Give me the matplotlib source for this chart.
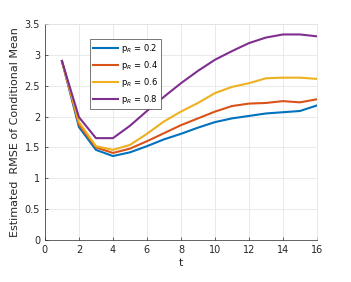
import numpy as np
import matplotlib
matplotlib.use('Agg')
import matplotlib.pyplot as plt

t = np.arange(1, 17)
rmse_02 = [2.9, 1.83, 1.46, 1.36, 1.42, 1.52, 1.63, 1.72, 1.82, 1.91, 1.97, 2.01, 2.05, 2.07, 2.09, 2.18]
rmse_04 = [2.9, 1.87, 1.50, 1.41, 1.48, 1.60, 1.73, 1.86, 1.97, 2.08, 2.17, 2.21, 2.22, 2.25, 2.23, 2.28]
rmse_06 = [2.9, 1.91, 1.52, 1.46, 1.54, 1.72, 1.92, 2.08, 2.22, 2.38, 2.48, 2.54, 2.62, 2.63, 2.63, 2.61]
rmse_08 = [2.9, 1.99, 1.65, 1.65, 1.85, 2.09, 2.32, 2.54, 2.74, 2.92, 3.06, 3.19, 3.28, 3.33, 3.33, 3.30]
labels = ['p$_R$ = 0.2', 'p$_R$ = 0.4', 'p$_R$ = 0.6', 'p$_R$ = 0.8']
colors = ['#0072BD', '#D95319', '#EDB120', '#7E2F8E']

fig = plt.figure(figsize=(3.51, 2.82), dpi=100)
ax = fig.add_axes([0.128, 0.149, 0.775, 0.766])

for y, lab, c in zip([rmse_02, rmse_04, rmse_06, rmse_08], labels, colors):
    ax.plot(t, y, color=c, lw=1.5, label=lab)

ax.set_xlim(0, 16)
ax.set_ylim(0, 3.5)
ax.set_xticks(np.arange(0, 17, 2))
yt = np.arange(0, 3.51, 0.5)
ax.set_yticks(yt)
ax.set_yticklabels(['0', '0.5', '1', '1.5', '2', '2.5', '3', '3.5'])
ax.grid(True, color='#e6e6e6', lw=0.6)
ax.set_axisbelow(True)
ax.tick_params(direction='in', labelsize=7, colors='#262626', length=2.5, width=0.5)
for s in ax.spines.values():
    s.set_linewidth(0.5)
    s.set_color('#262626')
ax.spines['top'].set_color('#e0e0e0')
ax.spines['right'].set_color('#e0e0e0')
ax.set_xlabel('t', fontsize=8, color='#262626', labelpad=2)
ax.set_ylabel('Estimated  RMSE of Conditional Mean', fontsize=8, color='#262626', labelpad=3)

leg = ax.legend(loc='upper left', bbox_to_anchor=(0.15, 0.95), fontsize=6,
                fancybox=False, framealpha=1, edgecolor='#404040',
                handlelength=3.0, borderpad=0.4, labelspacing=0.45, handletextpad=0.3)
leg.get_frame().set_linewidth(0.5)

fig.savefig('out.png', dpi=100)
